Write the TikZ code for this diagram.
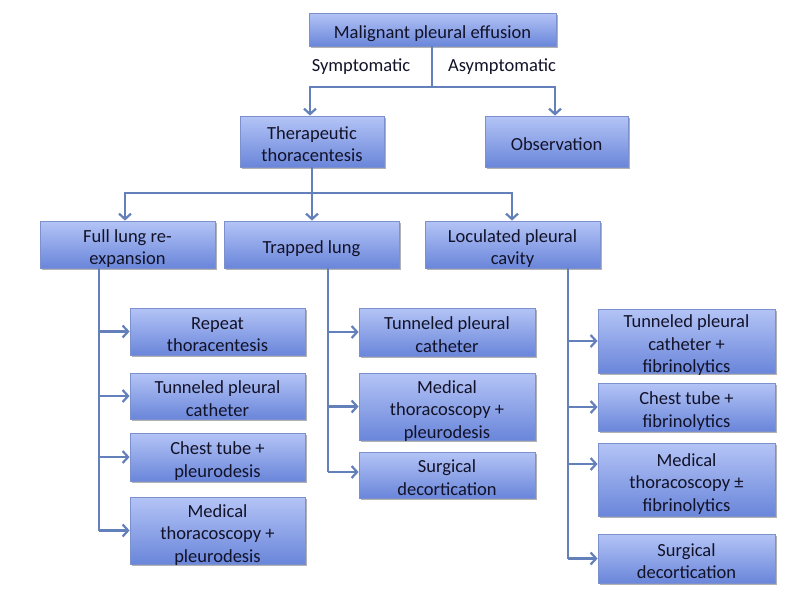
\documentclass[tikz,border=0pt]{standalone}
\usepackage{fontspec}
\setmainfont{Carlito}
\usetikzlibrary{arrows.meta,shadows}
\definecolor{boxtop}{RGB}{180,196,246}
\definecolor{boxbot}{RGB}{106,134,218}
\definecolor{boxline}{RGB}{124,144,206}
\definecolor{linec}{RGB}{100,128,186}
\definecolor{txtc}{RGB}{18,18,40}
\newcommand\bx[1]{\raisebox{-9pt}[0pt][0pt]{\begin{tabular}{@{}c@{}}#1\end{tabular}}}
\tikzset{
  box/.style={rectangle, draw=boxline, line width=0.8pt, top color=boxtop, bottom color=boxbot,
    text=txtc, inner sep=0pt, font=\fontsize{18.5}{22.5}\selectfont,
    drop shadow={shadow xshift=1.5pt, shadow yshift=-2pt, opacity=0.3, fill=black}},
  conn/.style={draw=linec, line width=2.6pt},
  arr/.style={conn, -{Straight Barb[length=5.5pt,width=12pt,line width=2.2pt]}},
  lbl/.style={text=txtc, font=\fontsize{18.5}{22.5}\selectfont, inner sep=0pt}
}
\begin{document}
\begin{tikzpicture}[x=1pt,y=-1pt]
\useasboundingbox (0,0) rectangle (800,592);
\fill[white] (0,0) rectangle (800,592);
% level 0
\node[box, minimum width=247pt, minimum height=33pt] (mpe) at (432.5,29.5) {\bx{Malignant pleural effusion}};
\node[lbl] (sym) at (361,67) {Symptomatic};
\node[lbl] (asym) at (502,67) {Asymptomatic};
% level 1
\node[box, minimum width=144pt, minimum height=51pt] (ther) at (312,141.5) {\bx{Therapeutic\\thoracentesis}};
\node[box, minimum width=143pt, minimum height=51pt] (obs) at (556.5,141.5) {\bx{Observation}};
% level 2
\node[box, minimum width=175pt, minimum height=47pt] (full) at (127.5,244.5) {\bx{Full lung re-\\expansion}};
\node[box, minimum width=175pt, minimum height=47pt] (trap) at (311.5,244.5) {\bx{Trapped lung}};
\node[box, minimum width=175pt, minimum height=47pt] (loc) at (512.5,244.5) {\bx{Loculated pleural\\cavity}};
% left column
\node[box, minimum width=175pt, minimum height=47pt] (L1) at (217.5,331.5) {\bx{Repeat\\thoracentesis}};
\node[box, minimum width=175pt, minimum height=46pt] (L2) at (217.5,396) {\bx{Tunneled pleural\\catheter}};
\node[box, minimum width=175pt, minimum height=48pt] (L3) at (217.5,457) {\bx{Chest tube +\\pleurodesis}};
\node[box, minimum width=175pt, minimum height=67pt] (L4) at (217.5,530.5) {\bx{Medical\\thoracoscopy +\\pleurodesis}};
% middle column
\node[box, minimum width=176pt, minimum height=48pt] (M1) at (447,332) {\bx{Tunneled pleural\\catheter}};
\node[box, minimum width=176pt, minimum height=67pt] (M2) at (447,406.5) {\bx{Medical\\thoracoscopy +\\pleurodesis}};
\node[box, minimum width=176pt, minimum height=46pt] (M3) at (447,475) {\bx{Surgical\\decortication}};
% right column
\node[box, minimum width=177pt, minimum height=64pt] (R1) at (686.5,341) {\bx{Tunneled pleural\\catheter +\\fibrinolytics}};
\node[box, minimum width=177pt, minimum height=48pt] (R2) at (686.5,407) {\bx{Chest tube +\\fibrinolytics}};
\node[box, minimum width=177pt, minimum height=73pt] (R3) at (686.5,479.5) {\bx{Medical\\thoracoscopy ±\\fibrinolytics}};
\node[box, minimum width=177pt, minimum height=49pt] (R4) at (686.5,558.5) {\bx{Surgical\\decortication}};
% coordinates
\coordinate (j0) at (432,87);
\coordinate (j1) at (312,193);
\coordinate (tL) at (99,0);
\coordinate (tM) at (328,0);
\coordinate (tR) at (568,0);
% top connectors
\draw[conn] (mpe.south -| j0) -- (j0);
\draw[arr] (j0) -| (ther.north -| 310,0);
\draw[arr] (j0) -| (obs.north -| 555,0);
% second level
\draw[conn] (ther.south) -- (j1);
\draw[arr] (j1) -| (full.north -| 125,0);
\draw[arr] (j1) -- (trap.north -| j1);
\draw[arr] (j1) -| (loc.north -| 512,0);
% trunks
\draw[conn] (full.south -| tL) -- (L4.west -| tL);
\draw[conn] (trap.south -| tM) -- ([yshift=3pt]M3.west -| tM);
\draw[conn] (loc.south -| tR) -- (R4.west -| tR);
% branches
\draw[arr] (L1.west -| tL) -- (L1.west);
\draw[arr] (L2.west -| tL) -- (L2.west);
\draw[arr] (L3.west -| tL) -- (L3.west);
\draw[arr] (L4.west -| tL) -- (L4.west);
\draw[arr] (M1.west -| tM) -- (M1.west);
\draw[arr] (M2.west -| tM) -- (M2.west);
\draw[arr] ([yshift=3pt]M3.west -| tM) -- ([yshift=3pt]M3.west);
\draw[arr] (R1.west -| tR) -- (R1.west);
\draw[arr] (R2.west -| tR) -- (R2.west);
\draw[arr] ([yshift=15.5pt]R3.west -| tR) -- ([yshift=15.5pt]R3.west);
\draw[arr] (R4.west -| tR) -- (R4.west);
\end{tikzpicture}
\end{document}
